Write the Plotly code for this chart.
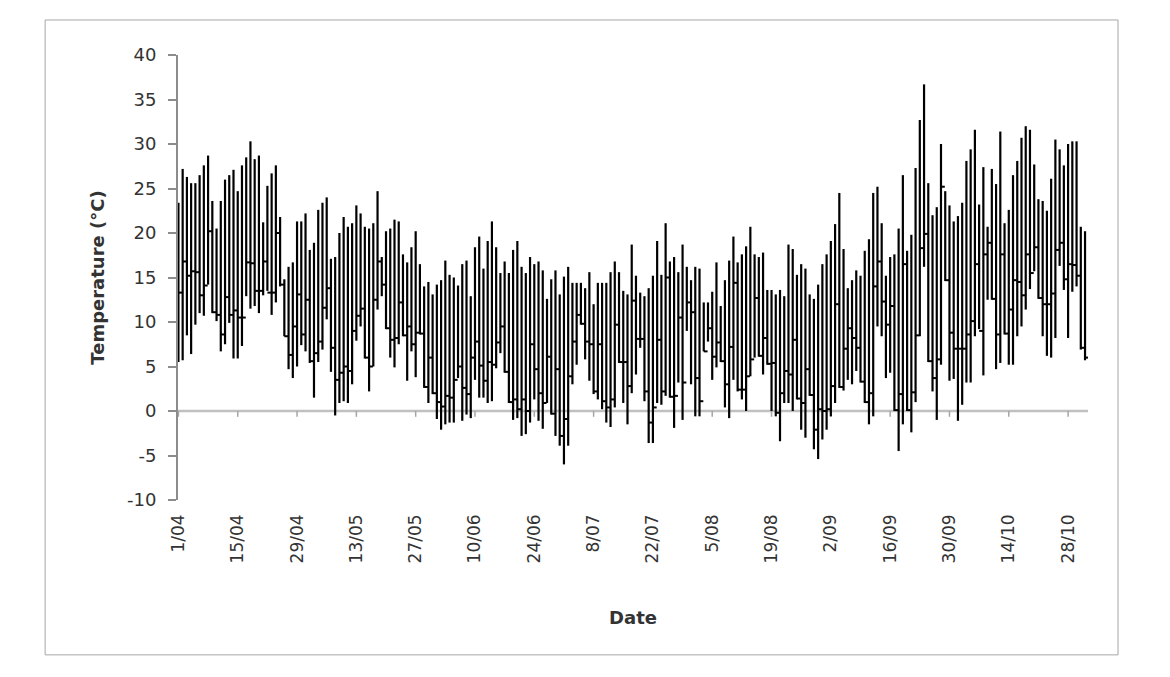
import pandas as pd
import plotly.graph_objects as go

# Daily maximum, minimum and mean temperature (°C), 1 April onwards
t_max = [23.4, 27.2, 26.3, 25.6, 25.6, 26.5, 27.6, 28.7, 23.6, 20.5,
         23.6, 26.0, 26.5, 27.1, 24.7, 27.6, 28.5, 30.3, 28.3, 28.7,
         21.2, 25.3, 26.7, 27.6, 21.8, 14.8, 16.2, 16.7, 21.3, 21.3,
         22.2, 18.1, 18.9, 22.6, 23.4, 24.0, 17.1, 17.3, 20.0, 21.8,
         20.7, 21.1, 23.1, 22.2, 20.7, 20.5, 21.1, 24.7, 17.3, 20.2,
         20.5, 21.5, 21.3, 17.6, 16.7, 18.4, 20.2, 16.5, 14.0, 14.5,
         13.1, 14.2, 14.7, 16.9, 15.3, 15.0, 14.1, 16.5, 16.9, 12.9,
         18.4, 19.6, 16.0, 19.1, 21.3, 18.4, 15.5, 16.8, 15.5, 18.1,
         19.1, 16.2, 15.5, 17.3, 16.5, 16.8, 15.8, 12.6, 14.8, 15.8,
         13.1, 15.1, 16.2, 14.4, 14.4, 14.4, 13.8, 15.6, 12.0, 14.4,
         14.4, 14.4, 15.6, 16.8, 15.6, 13.5, 13.1, 18.7, 15.2, 13.3,
         12.9, 13.8, 15.2, 19.1, 15.3, 21.1, 16.8, 17.3, 15.6, 18.7,
         16.2, 14.7, 16.2, 16.0, 12.2, 12.2, 13.4, 16.7, 11.8, 14.7,
         16.9, 19.6, 16.7, 17.6, 18.5, 20.7, 17.6, 17.3, 17.8, 13.6,
         13.6, 13.1, 13.6, 12.9, 18.7, 18.2, 15.3, 16.5, 16.0, 13.1,
         12.6, 14.2, 16.5, 17.6, 19.1, 21.0, 24.5, 18.2, 13.8, 14.7,
         15.8, 15.2, 18.0, 19.3, 24.5, 25.2, 21.1, 15.2, 17.3, 17.6,
         20.5, 26.5, 18.0, 19.8, 27.3, 32.7, 36.7, 25.6, 22.0, 22.9,
         30.0, 24.7, 23.1, 21.3, 21.9, 23.4, 28.1, 29.4, 31.6, 23.2,
         27.4, 20.7, 27.2, 25.5, 31.4, 21.1, 22.6, 26.5, 28.1, 30.7,
         32.0, 31.6, 27.7, 23.8, 23.6, 22.5, 26.1, 30.5, 29.4, 27.6,
         30.0, 30.3, 30.3, 20.7, 20.2]

t_min = [5.5, 5.7, 8.5, 6.4, 9.7, 11.0, 10.7, 14.2, 11.0, 10.1,
         6.7, 7.5, 9.9, 5.9, 5.9, 7.3, 12.9, 11.5, 11.8, 11.0,
         13.0, 13.5, 10.8, 12.2, 14.0, 8.4, 4.7, 3.7, 5.0, 7.4,
         6.7, 5.4, 1.5, 5.5, 6.9, 10.3, 4.4, -0.5, 0.9, 1.1,
         0.9, 3.0, 7.9, 9.5, 5.9, 2.2, 5.0, 11.4, 12.9, 9.2,
         6.0, 4.9, 7.5, 8.4, 3.4, 6.7, 3.8, 8.6, 2.6, 0.9,
         1.9, -0.9, -2.1, -1.5, -1.3, -1.3, 3.7, -1.1, -0.4, -0.8,
         3.5, 1.5, 1.5, 0.9, 1.1, 4.8, 6.5, 4.3, 0.9, -1.0,
         -0.8, -2.8, -2.6, -1.3, 1.3, -1.1, -2.0, 0.9, -0.4, -2.8,
         -3.9, -6.0, -3.9, 3.0, 5.2, 9.7, 5.8, 3.4, 1.9, 1.3,
         0.2, -1.3, -1.8, 0.4, 5.4, 0.9, -1.5, 2.0, 4.1, 7.1,
         1.1, -3.6, -3.6, 0.9, 0.7, 1.7, 1.5, -1.9, 3.2, -1.0,
         9.0, 3.0, -0.6, -0.6, 6.7, 7.8, 3.5, 4.9, 5.5, 0.4,
         -0.8, 3.5, 2.2, 1.3, 0.0, 3.9, 6.0, 6.1, 4.1, 5.2,
         0.0, -0.6, -3.4, 0.9, 0.9, 0.0, 1.3, -2.1, -3.0, 1.7,
         -4.3, -5.4, -3.2, -2.1, -0.6, 0.9, 2.6, 2.3, 3.5, 3.0,
         4.5, 3.2, 0.9, -1.5, -0.6, 9.5, 8.4, 3.7, 4.3, 0.0,
         -4.5, -1.5, 0.0, -2.4, 1.0, 8.4, 16.2, 5.5, 2.2, -1.0,
         5.2, 14.6, 3.4, 3.6, -1.1, 0.7, 3.2, 3.2, 8.4, 9.2,
         4.0, 12.5, 12.5, 4.7, 5.4, 8.6, 5.2, 5.2, 8.4, 9.5,
         11.4, 13.7, 15.7, 12.6, 8.4, 6.2, 6.0, 8.2, 16.3, 13.6,
         8.2, 13.4, 14.0, 6.9, 5.7]

t_mean = [13.3, 16.8, 15.2, 15.7, 15.6, 13.0, 14.1, 20.2, 11.1, 10.8,
          8.6, 12.8, 10.8, 11.3, 10.5, 10.5, 16.7, 16.6, 13.5, 13.5,
          16.8, 13.3, 13.3, 20.0, 14.2, 8.4, 6.3, 9.5, 13.1, 8.6,
          12.5, 5.6, 6.5, 7.8, 11.6, 13.8, 7.1, 3.5, 4.3, 5.0,
          4.5, 9.0, 10.7, 11.5, 6.0, 5.0, 12.5, 16.8, 14.2, 9.3,
          8.0, 8.2, 12.2, 8.5, 9.5, 7.5, 8.8, 8.7, 2.7, 6.0,
          2.0, 1.0, 0.5, 1.7, 1.5, 3.5, 5.0, 2.6, 1.9, 6.0,
          7.8, 5.1, 3.4, 5.5, 5.2, 7.7, 9.5, 4.4, 1.0, 1.3,
          0.2, 1.3, 0.0, 7.5, 4.7, 2.0, 0.9, 6.1, -0.3, 4.7,
          -2.8, -0.9, 3.9, 7.8, 10.8, 9.8, 7.8, 7.5, 2.2, 7.5,
          1.1, 0.4, 1.3, 9.7, 5.5, 5.5, 2.8, 12.4, 8.1, 8.1,
          2.2, -1.3, 0.4, 8.0, 2.2, 15.0, 1.6, 1.7, 10.5, 3.2,
          12.2, 11.1, 3.7, 1.1, 6.7, 9.3, 6.1, 7.7, 5.6, 3.0,
          7.2, 14.4, 2.4, 2.4, 3.9, 5.8, 12.7, 6.2, 8.2, 5.3,
          5.4, -0.2, 2.0, 4.5, 4.1, 8.0, 1.4, 0.9, 4.7, 1.8,
          -2.1, 0.2, 0.0, 0.2, 2.8, 12.0, 2.7, 7.0, 9.3, 8.2,
          7.1, 3.3, 1.0, 2.0, 14.0, 16.8, 12.3, 9.7, 11.8, 0.1,
          1.9, 16.5, 0.1, 2.1, 8.5, 18.3, 19.9, 5.6, 3.7, 5.8,
          25.2, 14.7, 8.8, 7.0, 7.0, 7.0, 8.6, 10.1, 16.5, 9.0,
          17.6, 18.9, 12.6, 8.6, 17.6, 8.7, 11.4, 14.7, 14.5, 13.0,
          17.6, 15.5, 18.4, 12.7, 12.0, 12.0, 13.2, 18.1, 18.9, 14.8,
          16.5, 16.4, 15.2, 7.1, 6.0]

dates = pd.date_range("2010-04-01", periods=len(t_max), freq="D")
day_labels = [f"{d.day}/{d.month:02d}" for d in dates]
tick_every = 14
tick_idx = list(range(0, len(dates), tick_every))
tick_text = [day_labels[i] for i in tick_idx]

y_ticks = list(range(-10, 45, 5))
y_tick_text = [str(v) for v in y_ticks]  # plain hyphen minus, as in the original

# build high-low segments and mean ticks
idx = list(range(len(t_max)))
hl_x, hl_y, c_x, c_y = [], [], [], []
for i, hi, lo, m in zip(idx, t_max, t_min, t_mean):
    hl_x += [i, i, None]
    hl_y += [lo, hi, None]
    c_x += [i, i + 0.9, None]
    c_y += [m, m, None]

tick_seg_x, tick_seg_y = [], []
for i in tick_idx:
    tick_seg_x += [i, i, None]
    tick_seg_y += [0, -0.65, None]

fig = go.Figure()
fig.add_trace(go.Scatter(x=tick_seg_x, y=tick_seg_y, mode="lines",
                         line=dict(color="#a6a6a6", width=1.5),
                         hoverinfo="skip", showlegend=False))
fig.add_trace(go.Scatter(x=hl_x, y=hl_y, mode="lines",
                         line=dict(color="#000000", width=2.2),
                         showlegend=False, name="Range"))
fig.add_trace(go.Scatter(x=c_x, y=c_y, mode="lines",
                         line=dict(color="#000000", width=2),
                         showlegend=False, name="Mean"))

fig.update_layout(
    width=1170, height=677,
    margin=dict(l=178, r=82, t=55, b=177),
    paper_bgcolor="white", plot_bgcolor="white",
    font=dict(family="DejaVu Sans", size=17, color="#333333"),
    showlegend=False,
    shapes=[
        dict(type="rect", xref="paper", yref="paper",
             x0=-0.146, x1=1.033, y0=-0.348, y1=1.0787,
             line=dict(color="#a6a6a6", width=1), fillcolor="rgba(0,0,0,0)",
             layer="below"),
        dict(type="line", xref="paper", yref="y", x0=0, x1=1, y0=0, y1=0,
             line=dict(color="#c0c0c0", width=2.5), layer="below"),
    ],
)
fig.update_xaxes(
    range=[-0.1, 214.7],
    tickmode="array", tickvals=tick_idx, ticktext=tick_text,
    tickangle=-90, ticks="", showline=False, showgrid=False, zeroline=False,
    ticklabelstandoff=10,
    tickfont=dict(family="DejaVu Sans", size=17, color="#333333"),
    title=dict(text="<b>Date</b>", standoff=48,
               font=dict(family="DejaVu Sans", size=18, color="#333333")),
)
fig.update_yaxes(
    range=[-10, 40], tickmode="array", tickvals=y_ticks, ticktext=y_tick_text,
    ticks="outside", ticklen=8, tickcolor="#8c8c8c", tickwidth=1.5,
    showline=True, linecolor="#8c8c8c", linewidth=2,
    showgrid=False, zeroline=False,
    ticklabelstandoff=8,
    tickfont=dict(family="DejaVu Sans", size=18, color="#333333"),
    title=dict(text="<b>Temperature (°C)</b>", standoff=18,
               font=dict(family="DejaVu Sans", size=18, color="#333333")),
)

fig.write_html("out.html")
